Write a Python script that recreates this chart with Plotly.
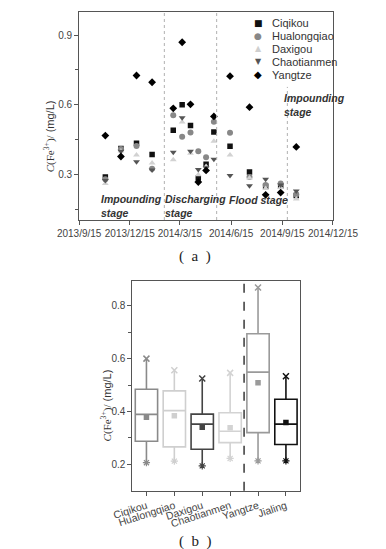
import plotly.graph_objects as go

W, H = 386, 549

# ---------------- data: panel (a) ----------------
dates = ['2013-11-01', '2013-11-29', '2013-12-27', '2014-01-24', '2014-03-03',
         '2014-03-19', '2014-04-03', '2014-04-17', '2014-05-01', '2014-05-15',
         '2014-06-13', '2014-07-18', '2014-08-16', '2014-09-12', '2014-10-10']
ciqikou = [0.290, 0.412, 0.435, 0.387, 0.491, 0.600, 0.511, 0.286, 0.345, 0.483,
           0.422, 0.311, 0.250, 0.250, 0.210]
hualongqiao = [0.280, 0.410, 0.423, 0.325, 0.555, 0.463, 0.481, 0.401, 0.375, 0.527,
               0.480, 0.290, 0.255, 0.262, 0.215]
daxigou = [0.262, 0.402, 0.384, 0.350, 0.364, 0.526, 0.392, 0.300, 0.335, 0.444,
           0.384, 0.285, 0.240, 0.245, 0.195]
chaotianmen = [0.275, 0.400, 0.355, 0.320, 0.396, 0.544, 0.401, 0.322, 0.330, 0.366,
               0.296, 0.252, 0.280, 0.255, 0.230]
yangtze = [0.468, 0.378, 0.726, 0.697, 0.585, 0.869, 0.602, 0.268, 0.318, 0.550,
           0.723, 0.590, 0.213, 0.223, 0.419]

x_tick_dates = ['2013-09-15', '2013-12-15', '2014-03-15', '2014-06-15', '2014-09-15', '2014-12-15']
x_tick_text = ['2013/9/15', '2013/12/15', '2014/3/15', '2014/6/15', '2014/9/15', '2014/12/15']
stage_bounds = ['2014-02-15', '2014-05-20', '2014-09-24']

# ---------------- data: panel (b) ----------------
sites = ['Ciqikou', 'Hualongqiao', 'Daxigou', 'Chaotianmen', 'Yangtze', 'Jialing']
box_q1 = [0.287, 0.266, 0.257, 0.282, 0.320, 0.275]
box_median = [0.389, 0.403, 0.352, 0.325, 0.549, 0.352]
box_q3 = [0.484, 0.478, 0.390, 0.395, 0.694, 0.446]
box_min = [0.206, 0.212, 0.194, 0.222, 0.213, 0.213]
box_max = [0.600, 0.556, 0.525, 0.546, 0.869, 0.533]
box_mean = [0.378, 0.384, 0.340, 0.338, 0.509, 0.358]

# ---------------- styles ----------------
SANS = 'Liberation Sans, Arial, sans-serif'
SERIF = 'Liberation Serif, Times New Roman, serif'
AX = '#555555'
TXT = '#444444'

series_style = [
    ('Ciqikou', ciqikou, 'square', '#111111', 5.5),
    ('Hualongqiao', hualongqiao, 'circle', '#888888', 6),
    ('Daxigou', daxigou, 'triangle-up', '#d2d2d2', 6),
    ('Chaotianmen', chaotianmen, 'triangle-down', '#555555', 6),
    ('Yangtze', yangtze, 'diamond', '#000000', 6),
]
box_colors = ['#8a8a8a', '#cfcfcf', '#444444', '#d3d3d3', '#9a9a9a', '#111111']


def px(x):
    return x / W


def py(y):
    return 1 - y / H


fig = go.Figure()

for name, vals, sym, col, size in series_style:
    fig.add_trace(go.Scatter(
        x=dates, y=vals, mode='markers', name=name,
        marker=dict(symbol=sym, color=col, size=size, line=dict(width=0)),
        xaxis='x', yaxis='y', showlegend=False))

for i, s in enumerate(sites):
    fig.add_trace(go.Box(
        x=[s], q1=[box_q1[i]], median=[box_median[i]], q3=[box_q3[i]],
        lowerfence=[box_min[i]], upperfence=[box_max[i]],
        line=dict(color=box_colors[i], width=1.6), fillcolor='rgba(0,0,0,0)',
        width=0.8, whiskerwidth=0, boxpoints=False,
        xaxis='x2', yaxis='y2', showlegend=False, name=s))

fig.add_trace(go.Scatter(
    x=sites, y=box_mean, mode='markers', xaxis='x2', yaxis='y2', showlegend=False,
    marker=dict(symbol='square', size=5.5, color=box_colors, line=dict(width=0))))
fig.add_trace(go.Scatter(
    x=sites, y=box_max, mode='markers', xaxis='x2', yaxis='y2', showlegend=False,
    marker=dict(symbol='x-thin', size=6, color=box_colors, line=dict(color=box_colors, width=1.5))))
fig.add_trace(go.Scatter(
    x=sites, y=box_min, mode='markers', xaxis='x2', yaxis='y2', showlegend=False,
    marker=dict(symbol='asterisk', size=6, color=box_colors, line=dict(color=box_colors, width=1.2))))

shapes = []
for k, d in enumerate(stage_bounds):
    shapes.append(dict(type='line', xref='x', yref='y', x0=d, x1=d,
                       y0=0.105, y1=(0.999 if k < 2 else 0.677),
                       line=dict(color='#b0b0b0', width=1, dash='dot')))
shapes.append(dict(type='line', xref='x2', yref='y2 domain', x0=3.5, x1=3.5, y0=0, y1=1,
                   line=dict(color='#444444', width=1.6, dash='dash')))

ann = []
# legend (panel a)
legend_rows = [('■', '#111111', 9, 'Ciqikou'), ('●', '#888888', 9, 'Hualongqiao'),
               ('▲', '#cfcfcf', 8, 'Daxigou'), ('▼', '#555555', 8, 'Chaotianmen'),
               ('◆', '#000000', 10, 'Yangtze')]
for r, (g, c, gs, t) in enumerate(legend_rows):
    yy = 14.7 + 13 * r
    ann.append(dict(xref='paper', yref='paper', x=px(260), y=py(yy), text=g, showarrow=False,
                    xanchor='center', yanchor='middle',
                    font=dict(family='DejaVu Sans', size=gs, color=c)))
    ann.append(dict(xref='paper', yref='paper', x=px(273), y=py(yy), text=t, showarrow=False,
                    xanchor='left', yanchor='middle', font=dict(family=SANS, size=11, color='#333333')))

stage_font = dict(family=SANS, size=10.5, color='#333333')
for txt, xx, yy in [('<b><i>Impounding<br>stage</i></b>', 78, 198.5),
                    ('<b><i>Discharging<br>stage</i></b>', 152, 198.5),
                    ('<b><i>Flood stage</i></b>', 224, 192),
                    ('<b><i>Impounding<br>stage</i></b>', 287, 97.5)]:
    ann.append(dict(xref='paper', yref='paper', x=px(xx), y=py(yy), text=txt, showarrow=False,
                    xanchor='left', yanchor='middle', align='left', font=stage_font))

ytitle = ('<span style="font-family:Liberation Serif"><i>C</i>(Fe<sup>3+</sup>)/</span>'
          '<span style="font-family:Liberation Sans"> (mg/L)</span>')
ann.append(dict(xref='paper', yref='paper', x=px(22), y=py(128), text=ytitle, textangle=-90,
                showarrow=False, xanchor='center', yanchor='middle',
                font=dict(family=SANS, size=11, color='#333333')))
ann.append(dict(xref='paper', yref='paper', x=px(87), y=py(397), text=ytitle, textangle=-90,
                showarrow=False, xanchor='center', yanchor='middle',
                font=dict(family=SANS, size=11, color='#333333')))

ann.append(dict(xref='paper', yref='paper', x=px(188), y=py(248), text='(  a  )', showarrow=False,
                xanchor='center', yanchor='middle', font=dict(family=SERIF, size=15, color='#222222')))
ann.append(dict(xref='paper', yref='paper', x=px(188), y=py(533), text='(  b  )', showarrow=False,
                xanchor='center', yanchor='middle', font=dict(family=SERIF, size=15, color='#222222')))

axis_common = dict(showline=True, mirror=True, linecolor=AX, linewidth=1.2, showgrid=False,
                   zeroline=False, ticks='outside', ticklen=4, tickcolor=AX, tickwidth=1,
                   tickfont=dict(family=SANS, size=10, color=TXT))

fig.update_layout(
    width=W, height=H, margin=dict(l=0, r=0, t=0, b=0),
    paper_bgcolor='white', plot_bgcolor='white', showlegend=False,
    xaxis=dict(domain=[px(56), px(345)], type='date', range=['2013-09-15', '2014-12-15'],
               tickvals=x_tick_dates, ticktext=x_tick_text, anchor='y', **axis_common),
    yaxis=dict(domain=[py(212), py(4)], range=[0.105, 0.999], tickvals=[0.3, 0.6, 0.9],
               ticktext=['0.3', '0.6', '0.9'], anchor='x',
               minor=dict(tickvals=[0.15, 0.45, 0.75], ticks='outside', ticklen=3, tickcolor=AX),
               **axis_common),
    xaxis2=dict(domain=[px(116.7), px(307.3)], type='category', categoryorder='array',
                categoryarray=sites, range=[-0.5, 5.5], tickangle=-18, anchor='y2', **axis_common),
    yaxis2=dict(domain=[py(482.7), py(272.7)], range=[0.1, 0.895], tickvals=[0.2, 0.4, 0.6, 0.8],
                ticktext=['0.2', '0.4', '0.6', '0.8'], anchor='x2',
                minor=dict(tickvals=[0.3, 0.5, 0.7], ticks='outside', ticklen=3, tickcolor=AX),
                **axis_common),
    shapes=shapes, annotations=ann, boxmode='overlay',
)
fig.layout.xaxis2.tickfont.size = 10.5

fig.write_html('out.html')
